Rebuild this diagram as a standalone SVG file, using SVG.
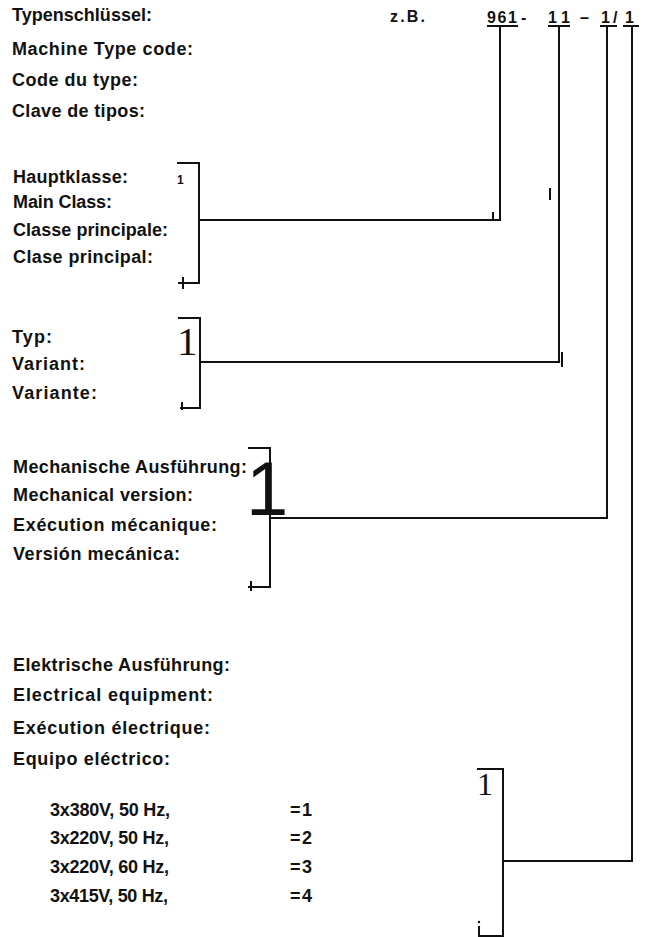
<svg xmlns="http://www.w3.org/2000/svg" width="649" height="937" viewBox="0 0 649 937">
<style>
.t{font-family:"Liberation Sans",Arial,sans-serif;font-weight:bold;font-size:18px;fill:#111}
.c{font-family:"Liberation Sans",Arial,sans-serif;font-weight:bold;font-size:16px;fill:#111}
.s{font-family:"Liberation Serif","Times New Roman",serif;fill:#111}
.ln{stroke:#111;stroke-width:2;fill:none}
</style>
<rect width="649" height="937" fill="#fff"/>
<g id="header">
<text class="t" x="12" y="21" textLength="140">Typenschlüssel:</text>
<text class="t" x="12" y="55" textLength="181">Machine Type code:</text>
<text class="t" x="12" y="86" textLength="126">Code du type:</text>
<text class="t" x="12" y="117" textLength="133">Clave de tipos:</text>
<text class="c" x="390" y="22" textLength="35">z.B.</text>
<text class="c" x="487" y="23" textLength="30">961</text>
<text class="c" x="521" y="23">-</text>
<text class="c" x="548" y="23" textLength="22">11</text>
<text class="c" x="580" y="23">–</text>
<text class="c" x="601" y="23">1</text>
<text class="c" x="613" y="23">/</text>
<text class="c" x="625" y="23">1</text>
<path class="ln" d="M487 26H518M548 26H570M600 26H617M623 26H639"/>
</g>
<g id="main-class">
<text class="t" x="13" y="183" textLength="115">Hauptklasse:</text>
<text class="t" x="13" y="208" textLength="99">Main Class:</text>
<text class="t" x="13" y="236" textLength="155">Classe principale:</text>
<text class="t" x="13" y="263" textLength="140">Clase principal:</text>
<text class="t" x="177" y="184" style="font-size:12px">1</text>
<path class="ln" d="M177 163H199V283H178M183 277V289"/>
</g>
<g id="type">
<text class="t" x="12" y="343" textLength="40">Typ:</text>
<text class="t" x="12" y="370" textLength="73">Variant:</text>
<text class="t" x="12" y="399" textLength="85">Variante:</text>
<text class="s" x="177" y="355" font-size="41">1</text>
<path class="ln" d="M178 318H200V408H180M182 402V410"/>
</g>
<g id="mechanical">
<text class="t" x="13" y="473" textLength="234">Mechanische Ausführung:</text>
<text class="t" x="13" y="501" textLength="180">Mechanical version:</text>
<text class="t" x="13" y="531" textLength="204">Exécution mécanique:</text>
<text class="t" x="13" y="560" textLength="167">Versión mecánica:</text>
<text x="246" y="515" style="font-family:'Liberation Sans',Arial,sans-serif;font-size:76px;fill:#111">1</text>
<path class="ln" d="M248 448H270V587H248M251 581V591"/>
</g>
<g id="electrical">
<text class="t" x="13" y="671" textLength="217">Elektrische Ausführung:</text>
<text class="t" x="13" y="701" textLength="200">Electrical equipment:</text>
<text class="t" x="13" y="734" textLength="197">Exécution électrique:</text>
<text class="t" x="13" y="765" textLength="157">Equipo eléctrico:</text>
<text class="t" x="50" y="816" textLength="120">3x380V, 50 Hz,</text>
<text class="t" x="50" y="844" textLength="119">3x220V, 50 Hz,</text>
<text class="t" x="50" y="873" textLength="119">3x220V, 60 Hz,</text>
<text class="t" x="50" y="902" textLength="118">3x415V, 50 Hz,</text>
<text class="t" x="290" y="816" textLength="22">= 1</text>
<text class="t" x="290" y="844" textLength="22">= 2</text>
<text class="t" x="290" y="873" textLength="22">= 3</text>
<text class="t" x="290" y="902" textLength="22">= 4</text>
<text class="s" x="477" y="795" font-size="32">1</text>
<path class="ln" d="M477 769H503V936H478M479 926V936"/>
<circle cx="479" cy="922" r="1.2" fill="#111"/>
</g>
<g id="connectors" class="ln">
<path d="M500 26V220H199"/>
<path d="M559 26V362H200"/>
<path d="M607 26V518H270"/>
<path d="M632 26V861H503"/>
<path d="M493 212V221M562 352V367M550 188V200"/>
</g>
</svg>
